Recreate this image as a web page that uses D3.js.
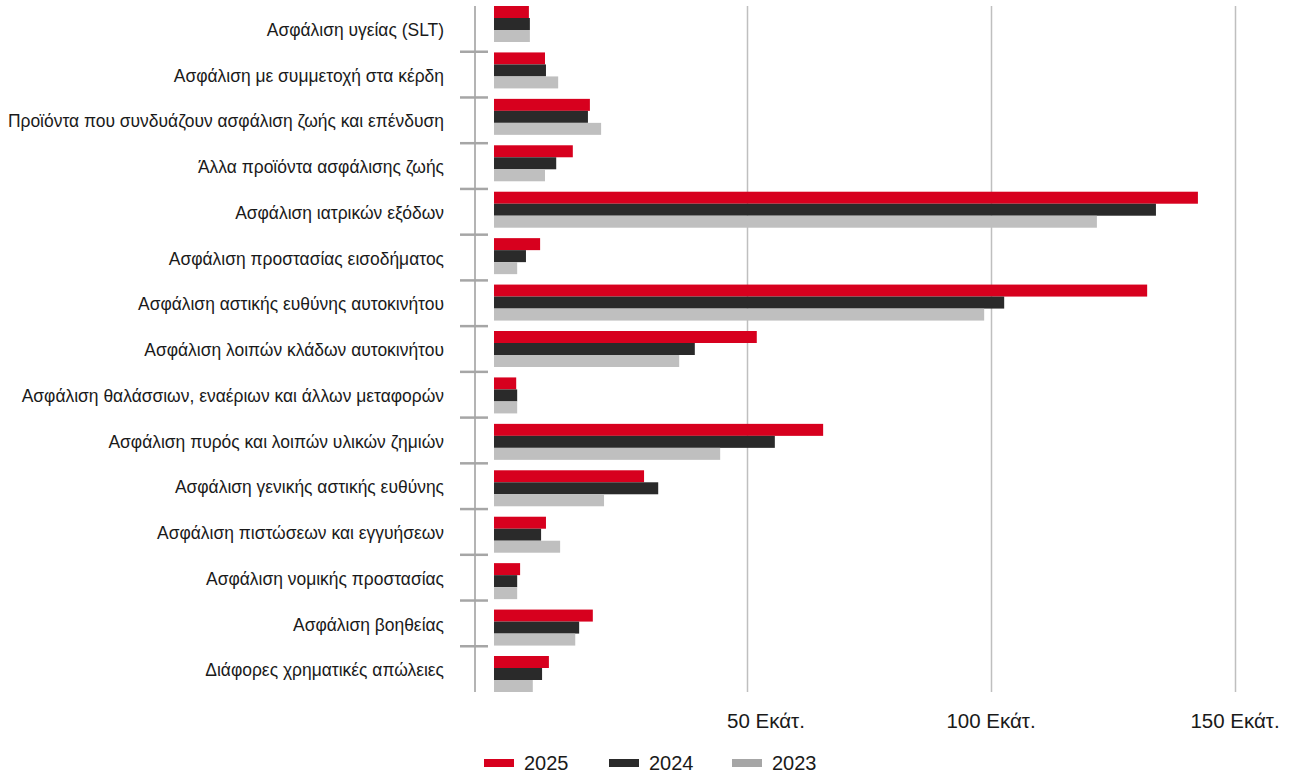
<!DOCTYPE html>
<html>
<head>
<meta charset="utf-8">
<script src="https://cdn.jsdelivr.net/npm/d3@7"></script>
<style>
  body { margin: 0; background: #fff; }
  svg text { font-family: "Liberation Sans", Arial, sans-serif; fill: #1a1a1a; }
</style>
</head>
<body>
<svg id="chart" width="1290" height="776"></svg>
<script>
// categories, top to bottom
var categories = [
  "Ασφάλιση υγείας (SLT)",
  "Ασφάλιση με συμμετοχή στα κέρδη",
  "Προϊόντα που συνδυάζουν ασφάλιση ζωής και επένδυση",
  "Άλλα προϊόντα ασφάλισης ζωής",
  "Ασφάλιση ιατρικών εξόδων",
  "Ασφάλιση προστασίας εισοδήματος",
  "Ασφάλιση αστικής ευθύνης αυτοκινήτου",
  "Ασφάλιση λοιπών κλάδων αυτοκινήτου",
  "Ασφάλιση θαλάσσιων, εναέριων και άλλων μεταφορών",
  "Ασφάλιση πυρός και λοιπών υλικών ζημιών",
  "Ασφάλιση γενικής αστικής ευθύνης",
  "Ασφάλιση πιστώσεων και εγγυήσεων",
  "Ασφάλιση νομικής προστασίας",
  "Ασφάλιση βοηθείας",
  "Διάφορες χρηματικές απώλειες"
];

var years = ["2025", "2024", "2023"];

// values in millions (Εκατ.)
var values2025 = [5.3, 8.6, 17.8, 14.3, 142.4, 7.6, 132.0, 52.0, 2.7, 65.6, 28.9, 8.8, 3.5, 18.4, 9.4];
var values2024 = [5.5, 8.8, 17.4, 10.9, 133.8, 4.7, 102.7, 39.3, 2.9, 55.7, 31.8, 7.8, 2.9, 15.6, 8.0];
var values2023 = [5.5, 11.3, 20.1, 8.6, 121.7, 2.9, 98.6, 36.1, 2.9, 44.5, 20.7, 11.7, 2.9, 14.8, 6.1];

var xTicks = [50, 100, 150];
var xTickLabels = ["50 Εκάτ.", "100 Εκάτ.", "150 Εκάτ."];

var barColors = {"2025": "#d7001e", "2024": "#2a2a2a", "2023": "#bfbfbf"};
var legendColors = {"2025": "#d7001e", "2024": "#2a2a2a", "2023": "#a6a6a6"};

var series = {"2025": values2025, "2024": values2024, "2023": values2023};

var svg = d3.select("#chart");

var plotTop = 6, plotBottom = 692;
var axisX = 475;

// bars are drawn from the left end of the scale, a little below zero
var x = d3.scaleLinear().domain([-1.85, 150]).range([494, 1235]);

var yCat = d3.scaleBand().domain(categories).range([plotTop, plotBottom]);
var yBar = d3.scaleBand().domain(categories).range([plotTop, plotBottom]).paddingInner(0.2247).paddingOuter(0);
var yInner = d3.scaleBand().domain(years).range([0, yBar.bandwidth()]);

// gridlines
svg.append("g").selectAll("line")
  .data(xTicks)
  .enter().append("line")
  .attr("x1", function(d){ return Math.round(x(d)) + 0.5; })
  .attr("x2", function(d){ return Math.round(x(d)) + 0.5; })
  .attr("y1", plotTop)
  .attr("y2", plotBottom)
  .style("stroke", "#bfbfbf")
  .style("stroke-width", 1.5);

// bars
var rows = [];
categories.forEach(function(c, i){
  years.forEach(function(yr){
    rows.push({cat: c, year: yr, value: series[yr][i]});
  });
});

svg.append("g").selectAll("rect")
  .data(rows)
  .enter().append("rect")
  .attr("x", x.range()[0])
  .attr("y", function(d){ return yBar(d.cat) + yInner(d.year); })
  .attr("width", function(d){ return x(d.value) - x.range()[0]; })
  .attr("height", yInner.bandwidth())
  .style("fill", function(d){ return barColors[d.year]; });

// category axis line + separators
svg.append("line")
  .attr("x1", axisX).attr("x2", axisX)
  .attr("y1", plotTop).attr("y2", plotBottom)
  .style("stroke", "#b4b4b4")
  .style("stroke-width", 2);

svg.append("g").selectAll("line")
  .data(categories.slice(1))
  .enter().append("line")
  .attr("x1", 460).attr("x2", 488)
  .attr("y1", function(d){ return yCat(d); })
  .attr("y2", function(d){ return yCat(d); })
  .style("stroke", "#a6a6a6")
  .style("stroke-width", 2.5);

// category labels
svg.append("g").selectAll("text")
  .data(categories)
  .enter().append("text")
  .attr("x", 444)
  .attr("y", function(d){ return yCat(d) + yCat.bandwidth()/2 + 1; })
  .attr("dy", "0.35em")
  .attr("text-anchor", "end")
  .style("font-size", "17.45px")
  .text(function(d){ return d; });

// value axis labels
svg.append("g").selectAll("text")
  .data(xTicks)
  .enter().append("text")
  .attr("x", function(d, i){ return x(d) + (i === 0 ? 19 : 0); })
  .attr("y", 728)
  .attr("text-anchor", "middle")
  .style("font-size", "20.5px")
  .text(function(d, i){ return xTickLabels[i]; });

// legend
var legendX = [484, 609, 732];
var legend = svg.append("g").selectAll("g")
  .data(years)
  .enter().append("g")
  .attr("transform", function(d, i){ return "translate(" + legendX[i] + ",759)"; });

legend.append("rect")
  .attr("width", 30)
  .attr("height", 8)
  .style("fill", function(d){ return legendColors[d]; });

legend.append("text")
  .attr("x", 40)
  .attr("y", 11)
  .style("font-size", "20px")
  .text(function(d){ return d; });
</script>
</body>
</html>
